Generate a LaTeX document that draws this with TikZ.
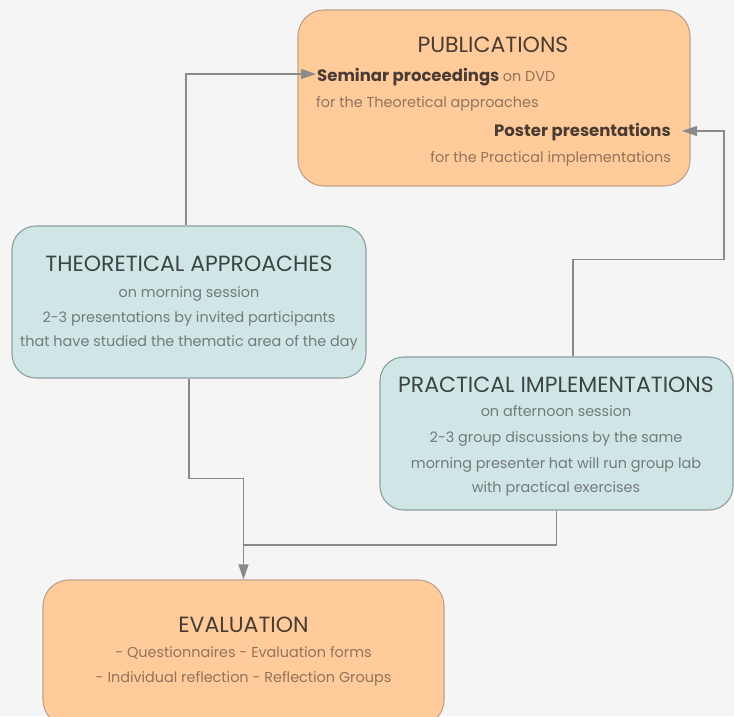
\documentclass[tikz,border=0pt]{standalone}
\usepackage{fontspec}
\setmainfont{Poppins}
\usetikzlibrary{arrows.meta}
\definecolor{bgc}{HTML}{F5F5F5}
\definecolor{ofill}{HTML}{FFCB9A}
\definecolor{odraw}{HTML}{BFA189}
\definecolor{bfill}{HTML}{D0E6E6}
\definecolor{bdraw}{HTML}{8E9E9E}
\definecolor{otitle}{HTML}{4A3C33}
\definecolor{otext}{HTML}{93735B}
\definecolor{btitle}{HTML}{3C4444}
\definecolor{btext}{HTML}{727A7A}
\definecolor{lnc}{HTML}{8A8A8A}
\tikzset{
  obox/.style={draw=odraw, fill=ofill, line width=1.1pt, rounded corners=26pt, inner sep=0pt},
  bbox/.style={draw=bdraw, fill=bfill, line width=1.1pt, rounded corners=24pt, inner sep=0pt},
  ttl/.style={inner sep=0pt, anchor=base, font=\fontsize{22}{26}\selectfont},
  txt/.style={inner sep=0pt, font=\fontsize{14.4}{17}\selectfont},
  bld/.style={inner sep=0pt, font=\fontsize{16.5}{19}\selectfont\bfseries},
  wire/.style={draw=lnc, line width=1.2pt},
  conn/.style={wire, -{Triangle[length=15pt,width=10pt]}}
}
\begin{document}
\begin{tikzpicture}[x=1pt,y=-1pt]
\fill[bgc] (0,0) rectangle (734,716);
\useasboundingbox (0,0) rectangle (734,716);
% boxes
\node[obox, minimum width=392pt, minimum height=176pt] (pub) at (494,98) {};
\node[bbox, minimum width=354pt, minimum height=152pt] (theo) at (189,302) {};
\node[bbox, minimum width=353pt, minimum height=153pt] (prac) at (556.5,433.5) {};
\node[obox, minimum width=401pt, minimum height=146pt] (eval) at (243.5,653) {};
% publications text
\node[ttl, text=otitle] (pubt) at (493,52) {PUBLICATIONS};
\node[bld, anchor=base west, text=otitle] (sem) at (317,81) {Seminar proceedings \textcolor{otext}{\fontsize{14.4}{17}\mdseries\selectfont on DVD}};
\node[txt, anchor=base west, text=otext] (semb) at (316,107) {for the Theoretical approaches};
\node[bld, anchor=base east, text=otitle] (post) at (671,136) {Poster presentations};
\node[txt, anchor=base east, text=otext] (postb) at (671,162) {for the Practical implementations};
% theoretical text
\node[ttl, text=btitle] (theot) at (189,271) {THEORETICAL APPROACHES};
\node[txt, anchor=base, text=btext] (theo1) at (189,297) {on morning session};
\node[txt, anchor=base, text=btext] (theo2) at (189,322) {2-3 presentations by invited participants};
\node[txt, anchor=base, text=btext] (theo3) at (189,346) {that have studied the thematic area of the day};
% practical text
\node[ttl, text=btitle] (pract) at (556,392) {PRACTICAL IMPLEMENTATIONS};
\node[txt, anchor=base, text=btext] (prac1) at (556,416) {on afternoon session};
\node[txt, anchor=base, text=btext] (prac2) at (556,442) {2-3 group discussions by the same};
\node[txt, anchor=base, text=btext] (prac3) at (556,468) {morning presenter hat will run group lab};
\node[txt, anchor=base, text=btext] (prac4) at (556,492) {with practical exercises};
% evaluation text
\node[ttl, text=otitle] (evalt) at (243.5,632) {EVALUATION};
\node[txt, anchor=base, text=otext] (eval1) at (243.5,657) {- Questionnaires - Evaluation forms};
\node[txt, anchor=base, text=otext] (eval2) at (243.5,682) {- Individual reflection - Reflection Groups};
% connectors
\coordinate (j) at (243.5,545);
\draw[conn] ([xshift=-3pt]theo.north) |- ([xshift=-1pt,yshift=7pt]sem.base west);
\draw[conn] ([xshift=16.5pt]prac.north) -- ++(0,-97) -| (724,131) -- ([xshift=11pt,yshift=5pt]post.base east);
\draw[conn] (theo.south) -- ++(0,100) -| (eval.north);
\draw[wire] (prac.south) |- (j);
\end{tikzpicture}
\end{document}
